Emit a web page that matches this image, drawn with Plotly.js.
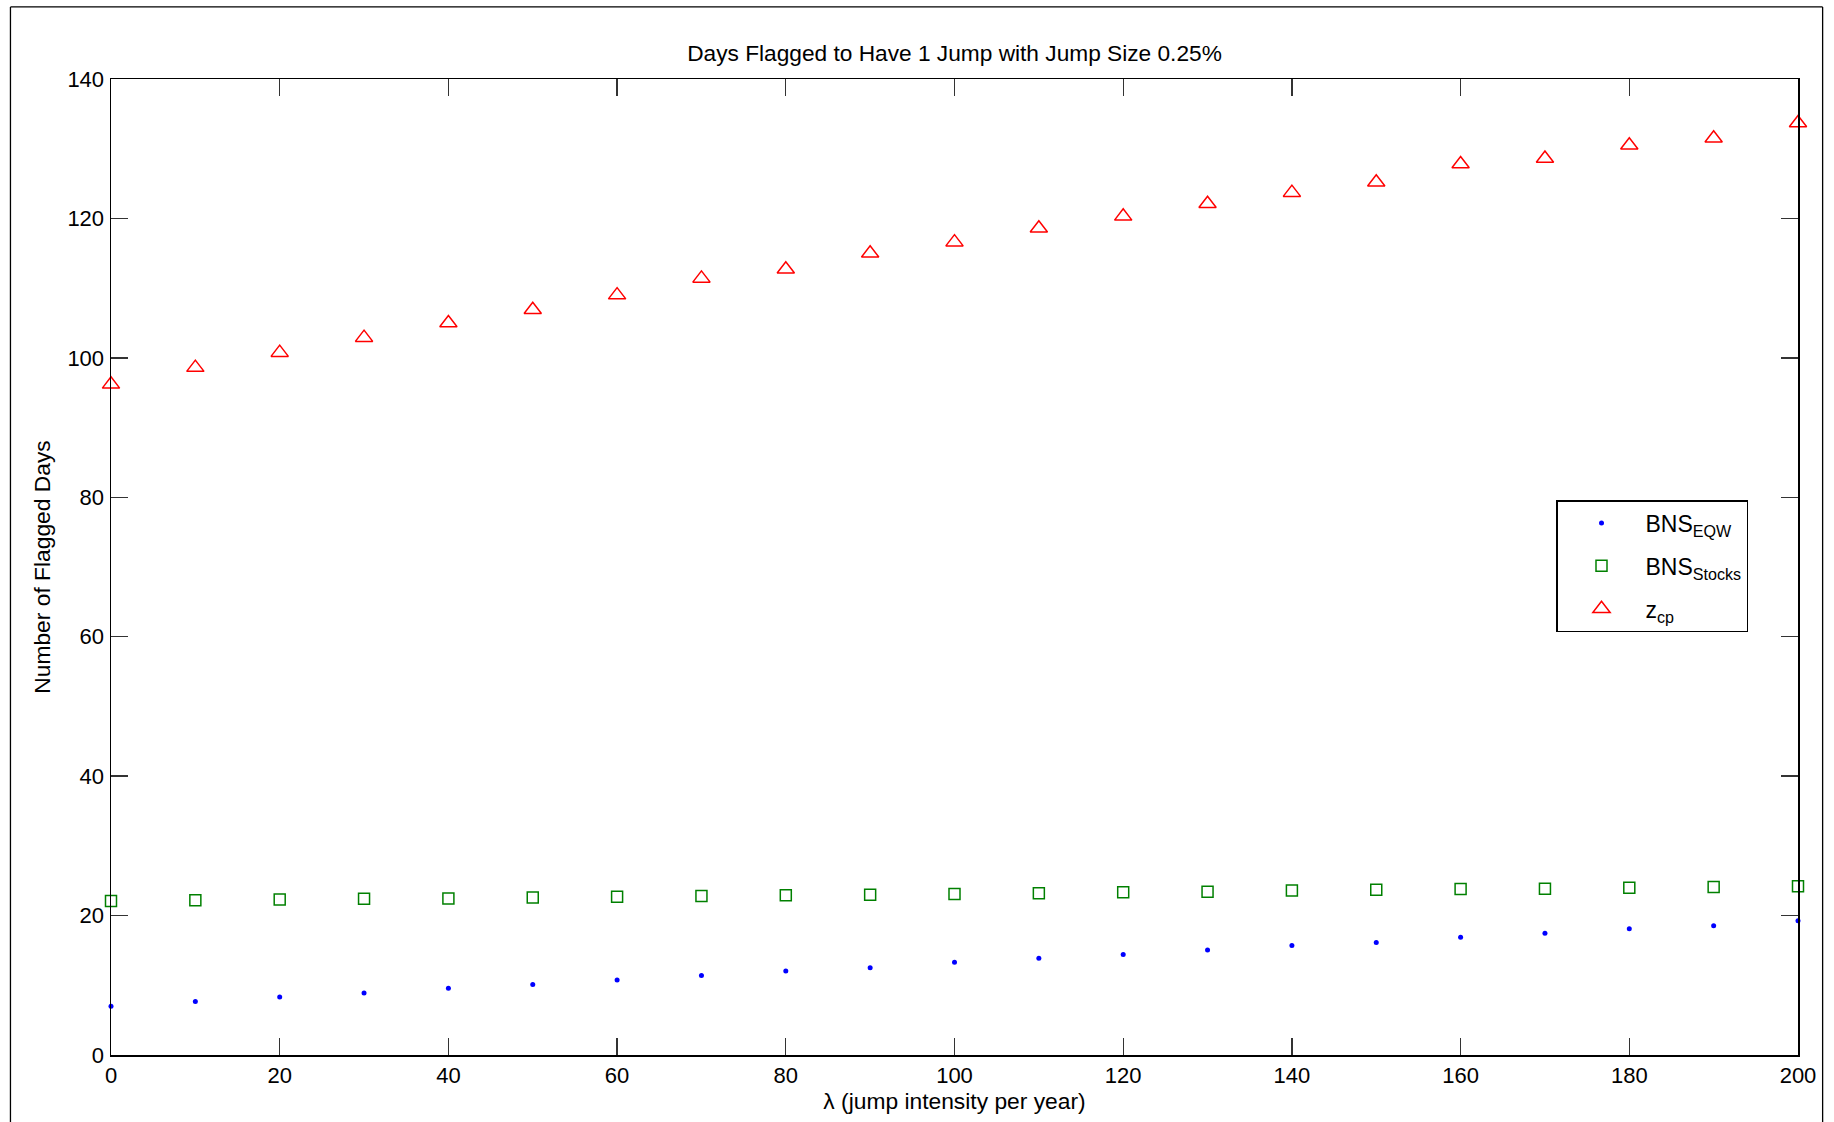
<!DOCTYPE html>
<html>
<head>
<meta charset="utf-8">
<script src="https://cdn.plot.ly/plotly-3.0.1.min.js"></script>
<style>
  html, body { margin: 0; padding: 0; background: #ffffff; }
  #chart { width: 1834px; height: 1122px; }
</style>
</head>
<body>
<div id="chart"></div>
<script>
// λ (jump intensity per year)
const lambda = [0, 10, 20, 30, 40, 50, 60, 70, 80, 90, 100, 110, 120, 130, 140, 150, 160, 170, 180, 190, 200];

// BNS_EQW
const bnsEqw = [7.0, 7.66, 8.33, 8.9, 9.57, 10.1, 10.77, 11.4, 12.06, 12.5, 13.3, 13.87, 14.4, 15.06, 15.7, 16.15, 16.9, 17.45, 18.1, 18.55, 19.26];

// BNS_Stocks
const bnsStocks = [22.1, 22.2, 22.3, 22.4, 22.45, 22.6, 22.7, 22.8, 22.9, 23.0, 23.1, 23.2, 23.35, 23.4, 23.6, 23.7, 23.8, 23.85, 24.0, 24.1, 24.2];

// z_cp
const zcp = [96.2, 98.6, 100.75, 102.9, 105.0, 106.9, 109.0, 111.4, 112.7, 115.0, 116.6, 118.6, 120.3, 122.1, 123.7, 125.2, 127.8, 128.6, 130.5, 131.5, 133.7];

const xTicks = [0, 20, 40, 60, 80, 100, 120, 140, 160, 180, 200];
const yTicks = [0, 20, 40, 60, 80, 100, 120, 140];

const FONT = 'Liberation Sans, Arial, Helvetica, sans-serif';

const traces = [
  {
    x: lambda, y: bnsEqw, name: 'BNS<sub>EQW</sub>', legendgroup: 'g1',
    type: 'scatter', mode: 'markers', cliponaxis: false,
    marker: { symbol: 'circle', size: 5, color: '#0000ff', line: { width: 0 } }
  },
  {
    x: lambda, y: bnsStocks, name: 'BNS<sub>Stocks</sub>', legendgroup: 'g2',
    type: 'scatter', mode: 'markers', cliponaxis: false,
    marker: { symbol: 'square-open', size: 11, color: '#008000', line: { width: 1.5, color: '#008000' } }
  },
  {
    x: lambda, y: zcp, name: 'z<sub>cp</sub>', legendgroup: 'g3',
    type: 'scatter', mode: 'markers', cliponaxis: false,
    marker: { symbol: 'triangle-up-open', size: 15, color: '#ff0000', line: { width: 1.5, color: '#ff0000' } }
  }
];

const axisCommon = {
  showgrid: false, zeroline: false,
  showline: true, linecolor: '#000000', linewidth: 1.5,
  mirror: 'ticks', ticks: 'inside', ticklen: 17, tickwidth: 1.3, tickcolor: '#333333',
  tickfont: { family: FONT, size: 22, color: '#000000' }
};

const layout = {
  width: 1834, height: 1122,
  paper_bgcolor: '#ffffff', plot_bgcolor: '#ffffff',
  margin: { l: 111, r: 36, t: 79, b: 67, pad: 0 },
  showlegend: true,
  title: {
    text: 'Days Flagged to Have 1 Jump with Jump Size 0.25%',
    font: { family: FONT, size: 22.7, color: '#000000' },
    x: 0.5, xref: 'paper', xanchor: 'center',
    y: 1 - 53 / 1122, yref: 'container', yanchor: 'middle'
  },
  xaxis: Object.assign({}, axisCommon, {
    range: [0, 200], tickvals: xTicks, ticktext: xTicks.map(String),
    ticklabelstandoff: 0,
    title: { text: 'λ (jump intensity per year)', font: { family: FONT, size: 22.8, color: '#000000' }, standoff: 6 }
  }),
  yaxis: Object.assign({}, axisCommon, {
    range: [0, 140], tickvals: yTicks, ticktext: yTicks.map(String),
    ticklabelstandoff: 1,
    title: { text: 'Number of Flagged Days', font: { family: FONT, size: 22.8, color: '#000000' }, standoff: 10 }
  }),
  legend: {
    x: (1556 - 111) / 1687, y: (1055 - 500) / 976,
    xanchor: 'left', yanchor: 'top',
    bgcolor: '#ffffff', bordercolor: '#000000', borderwidth: 1.5,
    font: { family: FONT, size: 23, color: '#000000' },
    itemwidth: 78, traceorder: 'grouped', tracegroupgap: 10
  },
  shapes: [
    { type: 'line', xref: 'paper', yref: 'paper', x0: -0.0596, x1: -0.0596, y0: 1.0738, y1: -0.08, line: { color: '#000000', width: 1.3 } },
    { type: 'line', xref: 'paper', yref: 'paper', x0: -0.0596, x1: 1.0146, y0: 1.0738, y1: 1.0738, line: { color: '#000000', width: 1.3 } },
    { type: 'line', xref: 'paper', yref: 'paper', x0: 1.0146, x1: 1.0146, y0: 1.0738, y1: -0.08, line: { color: '#000000', width: 1.3 } }
  ]
};

Plotly.newPlot('chart', traces, layout, { displayModeBar: false, staticPlot: true });
</script>
</body>
</html>
